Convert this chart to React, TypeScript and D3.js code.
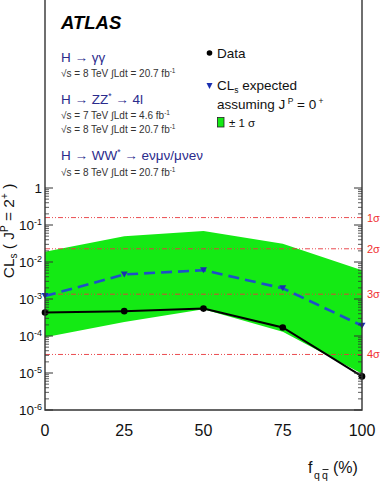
import React from "react";
import * as d3 from "d3";

// Signal fraction f_qq̄ (%)
const fractions = [0, 25, 50, 75, 100];
// Observed CLs
const observed = [4.3e-4, 4.7e-4, 5.5e-4, 1.7e-4, 8.1e-6];
// Expected CLs assuming J^P = 0+
const expected = [1.2e-3, 4.6e-3, 6.0e-3, 1.95e-3, 1.9e-4];
// ±1σ band around expected
const bandHigh = [1.9e-2, 5.0e-2, 6.9e-2, 3.1e-2, 6.0e-3];
const bandLow = [9.2e-5, 2.4e-4, 5.3e-4, 1.3e-4, 9.5e-6];
// One-sided significance reference levels
const sigmaLevels = [0.1587, 0.02275, 0.00135, 3.17e-5];
const sigmaLabels = ["1σ", "2σ", "3σ", "4σ"];
const xTicks = [0, 25, 50, 75, 100];
const yDecades = [0, -1, -2, -3, -4, -5, -6];

const W = 386;
const H = 488;
const left = 45;
const right = 362;
const top = 188;
const bottom = 410;
const font = "'Liberation Sans', Arial, Helvetica, sans-serif";

export default function App() {
  const x = d3.scaleLinear().domain([0, 100]).range([left, right]);
  const y = d3.scaleLog().domain([1e-6, 1]).range([bottom, top]);

  const idx = fractions.map((_, i) => i);
  const band = d3
    .area<number>()
    .x((i) => x(fractions[i]))
    .y0((i) => y(bandLow[i]))
    .y1((i) => y(bandHigh[i]))(idx) as string;
  const obsLine = d3
    .line<number>()
    .x((i) => x(fractions[i]))
    .y((i) => y(observed[i]))(idx) as string;
  const expLine = d3
    .line<number>()
    .x((i) => x(fractions[i]))
    .y((i) => y(expected[i]))(idx) as string;

  // minor ticks at 2..9 × each decade
  const minor: number[] = [];
  for (let e = -6; e < 0; e++) {
    for (let m = 2; m <= 9; m++) minor.push(m * Math.pow(10, e));
  }

  const navy = "#2b2b8c";
  const sub = "#333";

  const infoLine = (yy: number, energy: string, lumi: string) => (
    <text x={61} y={yy} fontSize={10} fill={sub} fontFamily={font}>
      √s = {energy} TeV ∫Ldt = {lumi} fb
      <tspan dy={-4} fontSize={6.5}>-1</tspan>
    </text>
  );

  return (
    <svg
      width={W}
      height={H}
      style={{ position: "absolute", left: 0, top: 0, background: "#fff" }}
      fontFamily={font}
    >
      <rect x={0} y={0} width={W} height={H} fill="#fff" />

      {/* ±1σ band */}
      <path d={band} fill="#14ea14" stroke="none" />

      {/* significance reference lines */}
      {sigmaLevels.map((p, i) => (
        <g key={i}>
          <line
            x1={left}
            x2={right}
            y1={y(p)}
            y2={y(p)}
            stroke="#e8383d"
            strokeWidth={0.9}
            strokeDasharray="5,2,1,2,1,2"
          />
          <text x={367} y={y(p) + 4} fontSize={11} fill="#f03030">
            {sigmaLabels[i]}
          </text>
        </g>
      ))}

      {/* expected */}
      <path
        d={expLine}
        fill="none"
        stroke="#1e50c8"
        strokeWidth={2.6}
        strokeDasharray="11,6"
      />
      {idx.map((i) => {
        const cx = x(fractions[i]);
        const cy = y(expected[i]);
        return (
          <path
            key={i}
            d={`M${cx - 3.5},${cy - 3} L${cx + 3.5},${cy - 3} L${cx},${cy + 3} Z`}
            fill="#1a2fb0"
          />
        );
      })}

      {/* observed */}
      <path d={obsLine} fill="none" stroke="#000" strokeWidth={2} />
      {idx.map((i) => (
        <circle key={i} cx={x(fractions[i])} cy={y(observed[i])} r={3.3} fill="#000" />
      ))}

      {/* frame */}
      <path
        d={`M${left},0 L${left},${bottom} L${right},${bottom} L${right},0`}
        fill="none"
        stroke="#333"
        strokeWidth={1.4}
      />

      {/* y ticks on both sides, pointing inward */}
      {yDecades.map((e) => {
        const yy = y(Math.pow(10, e));
        return (
          <g key={e}>
            <line x1={left} x2={left + 8} y1={yy} y2={yy} stroke="#333" strokeWidth={1} />
            <line x1={right} x2={right - 8} y1={yy} y2={yy} stroke="#333" strokeWidth={1} />
          </g>
        );
      })}
      {minor.map((v, i) => (
        <g key={i}>
          <line x1={left} x2={left + 4} y1={y(v)} y2={y(v)} stroke="#333" strokeWidth={0.8} />
          <line x1={right} x2={right - 4} y1={y(v)} y2={y(v)} stroke="#333" strokeWidth={0.8} />
        </g>
      ))}

      {/* y tick labels */}
      {yDecades.map((e) => {
        const yy = y(Math.pow(10, e));
        if (e === 0) {
          return (
            <text key={e} x={42} y={yy + 5} fontSize={13.5} textAnchor="end" fill="#111">
              1
            </text>
          );
        }
        return (
          <text key={e} x={42} y={yy + 5} fontSize={13.5} textAnchor="end" fill="#111">
            10
            <tspan dy={-5} fontSize={9}>{String(e)}</tspan>
          </text>
        );
      })}

      {/* x tick labels */}
      {xTicks.map((t) => (
        <text key={t} x={x(t)} y={436} fontSize={16} textAnchor="middle" fill="#111">
          {t}
        </text>
      ))}

      {/* x axis title */}
      <text x={308} y={473} fontSize={16} fill="#111">f</text>
      <text x={314} y={479} fontSize={10.5} fill="#111">q</text>
      <text x={322} y={479} fontSize={10.5} fill="#111">q</text>
      <line x1={322.5} x2={328.5} y1={469.5} y2={469.5} stroke="#111" strokeWidth={0.9} />
      <text x={333} y={473} fontSize={16} fill="#111">(%)</text>

      {/* y axis title */}
      <text
        transform={`translate(14,${231}) rotate(-90)`}
        fontSize={15.5}
        textAnchor="middle"
        fill="#111"
      >
        CL
        <tspan dy={3} fontSize={10}>s</tspan>
        <tspan dy={-3}> ( J</tspan>
        <tspan dy={-6} fontSize={10}>P</tspan>
        <tspan dy={6}> = 2</tspan>
        <tspan dy={-6} fontSize={10}>+</tspan>
        <tspan dy={6}> )</tspan>
      </text>

      {/* experiment label */}
      <text x={61} y={29} fontSize={18.5} fontWeight="bold" fontStyle="italic" fill="#000">
        ATLAS
      </text>

      {/* channels */}
      <text x={61} y={62} fontSize={13.5} fill={navy}>
        H → γγ
      </text>
      {infoLine(77, "8", "20.7")}
      <text x={61} y={104} fontSize={13.5} fill={navy}>
        H → ZZ
        <tspan dy={-5} fontSize={8.5}>*</tspan>
        <tspan dy={5}> → 4l</tspan>
      </text>
      {infoLine(118.5, "7", "4.6")}
      {infoLine(133, "8", "20.7")}
      <text x={61} y={160} fontSize={13.5} fill={navy}>
        H → WW
        <tspan dy={-5} fontSize={8.5}>*</tspan>
        <tspan dy={5}> → eνμν/μνeν</tspan>
      </text>
      {infoLine(176, "8", "20.7")}

      {/* legend */}
      <circle cx={209.5} cy={53} r={2.8} fill="#000" />
      <text x={217} y={58} fontSize={13.5} fill="#111">
        Data
      </text>
      <path d="M206.5,83 L212.5,83 L209.5,89 Z" fill="#1a2fb0" />
      <text x={217} y={90} fontSize={13.5} fill="#111">
        CL
        <tspan dy={3} fontSize={8.5}>s</tspan>
        <tspan dy={-3}> expected</tspan>
      </text>
      <text x={217} y={109} fontSize={13.5} fill="#111">
        assuming J
        <tspan dy={-5} fontSize={8.5}> P</tspan>
        <tspan dy={5}> = 0</tspan>
        <tspan dy={-5} fontSize={8.5}> +</tspan>
      </text>
      <rect x={217.5} y={117.5} width={6.5} height={9.5} fill="#14ea14" stroke="#222" strokeWidth={0.8} />
      <text x={229} y={127} fontSize={11.5} fill="#111">
        ± 1 σ
      </text>
    </svg>
  );
}
